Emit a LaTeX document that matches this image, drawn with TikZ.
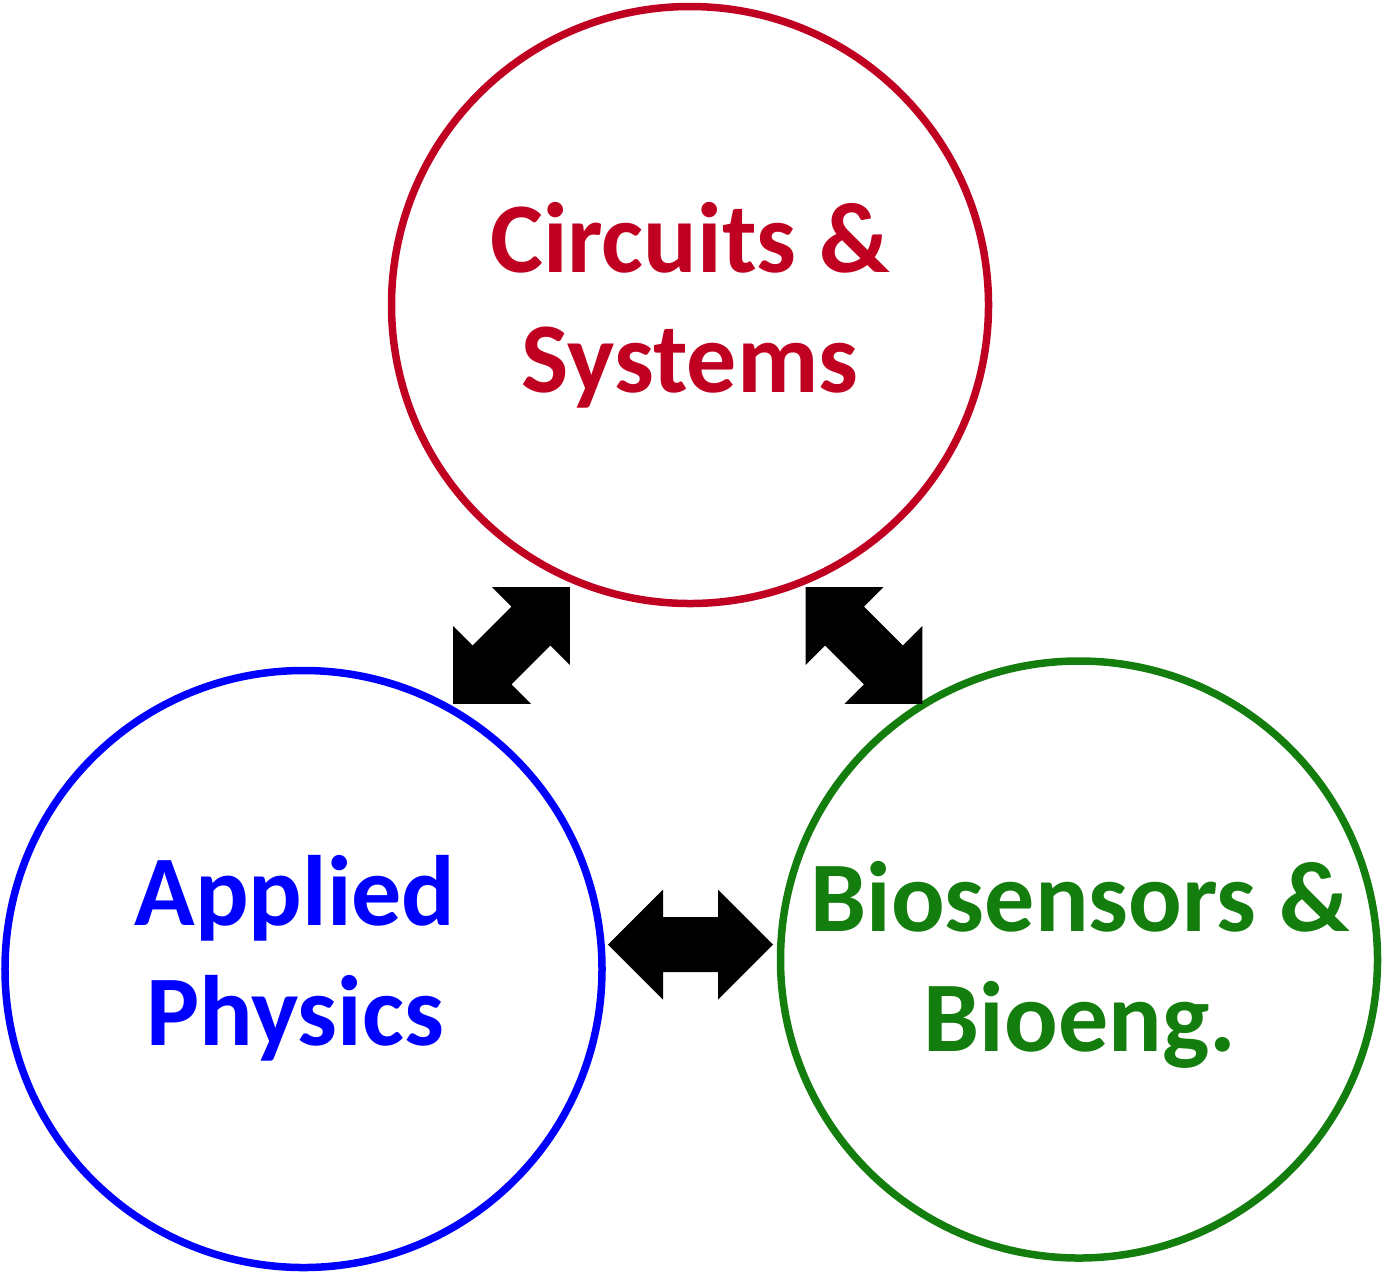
\documentclass[tikz,border=0pt]{standalone}
\usepackage{fontspec}
\setmainfont{Carlito}
\definecolor{cred}{RGB}{192,0,32}
\definecolor{cblue}{RGB}{0,0,255}
\definecolor{cgreen}{RGB}{19,125,13}
\begin{document}
\begin{tikzpicture}[x=1bp,y=-1bp,
  ring/.style={circle, draw=#1, line width=7.5bp, minimum size=597bp, inner sep=0pt},
  % base anchor of a two-line node sits on the baseline of its last line
  topic/.style={text=#1, font=\fontsize{100bp}{120bp}\selectfont\bfseries,
    align=center, anchor=base, inner sep=0pt},
  dblarrow/.pic={
    \fill[black] (-82.5,0) -- (-27.5,55) -- (-27.5,27.5) -- (27.5,27.5)
      -- (27.5,55) -- (82.5,0) -- (27.5,-55) -- (27.5,-27.5)
      -- (-27.5,-27.5) -- (-27.5,-55) -- cycle;
  }
]
\useasboundingbox (0,0) rectangle (1383,1274);

% the three fields
\node[ring=cred]   (cs) at (690,305)    {};
\node[ring=cblue]  (ap) at (303.5,969)  {};
\node[ring=cgreen] (bb) at (1079,959.5) {};

% field names
\node[topic=cred]   (cslabel) at (690,392)  {Circuits \&\\Systems};
\node[topic=cblue]  (aplabel) at (295,1045) {Applied\\Physics};
\node[topic=cgreen] (bblabel) at (1080,1051) {Biosensors \&\\Bioeng.};

% two-way links between the fields
\pic[rotate=45]  (link1) at (511.5,645.5) {dblarrow};
\pic[rotate=-45] (link2) at (864,645.5)   {dblarrow};
\pic             (link3) at (690.5,944.5) {dblarrow};
\end{tikzpicture}
\end{document}
